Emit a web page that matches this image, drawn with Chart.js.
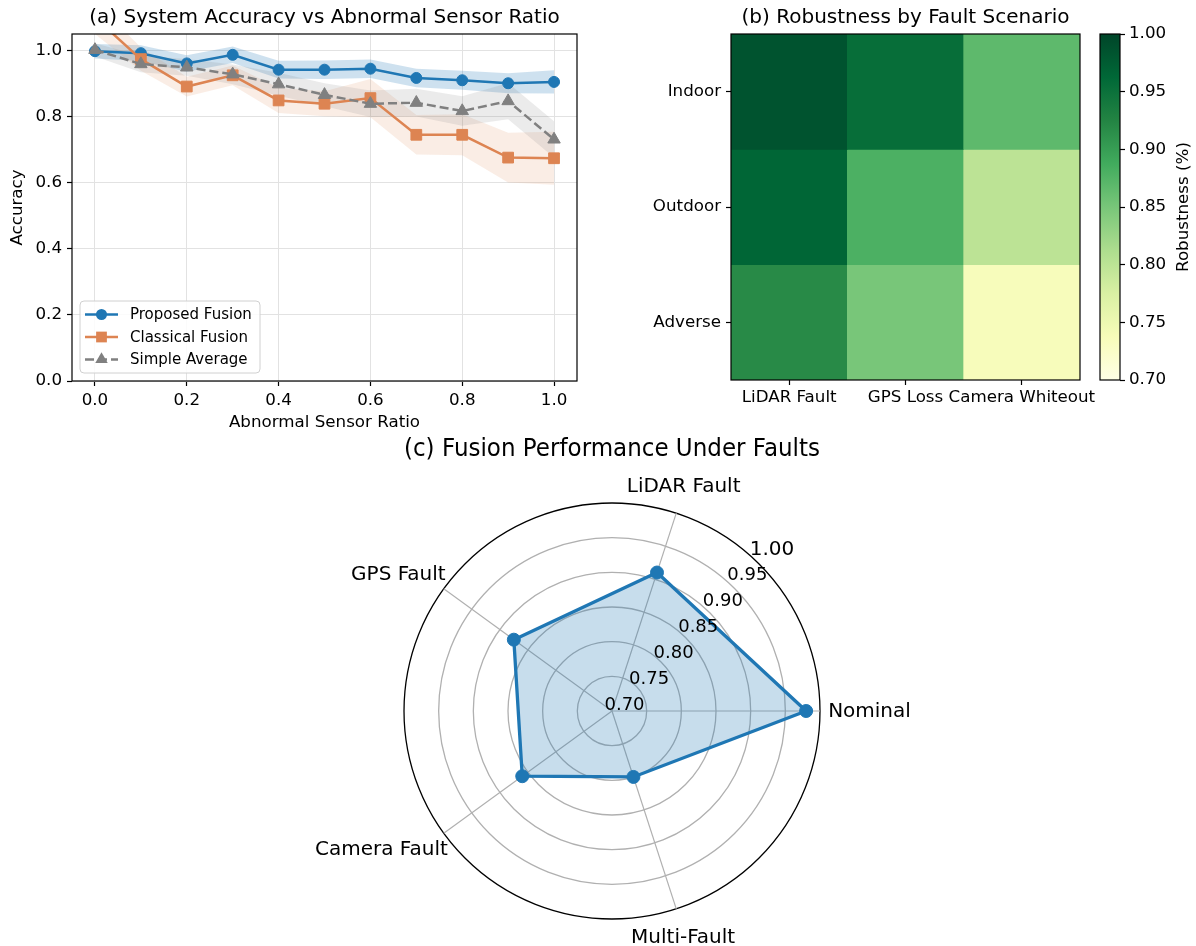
<!DOCTYPE html>
<html><head><meta charset="utf-8">
<script src="https://cdn.jsdelivr.net/npm/chart.js@4"></script>
<style>
html,body{margin:0;padding:0;background:#fff;width:1196px;height:946px;overflow:hidden;position:relative;}
canvas{position:absolute;}
</style></head><body>
<canvas id="cA" width="600" height="445" style="left:0px;top:0px"></canvas>
<canvas id="cB" width="510" height="420" style="left:600px;top:0px"></canvas>
<canvas id="cBar" width="106" height="420" style="left:1090px;top:0px"></canvas>
<canvas id="cC" width="660" height="516" style="left:280px;top:430px"></canvas>
<script>
// ---------------- DATA ----------------
const ratios = [0.0, 0.1, 0.2, 0.3, 0.4, 0.5, 0.6, 0.7, 0.8, 0.9, 1.0];
const seriesNames = ['Proposed Fusion', 'Classical Fusion', 'Simple Average'];
const proposed     = [0.998, 0.992, 0.961, 0.987, 0.942, 0.942, 0.945, 0.917, 0.910, 0.901, 0.905];
const proposedStd  = [0.022, 0.024, 0.025, 0.025, 0.027, 0.028, 0.028, 0.028, 0.029, 0.030, 0.035];
const classical    = [1.100, 0.974, 0.891, 0.925, 0.849, 0.839, 0.856, 0.745, 0.745, 0.676, 0.674];
const classicalStd = [0.050, 0.035, 0.030, 0.030, 0.038, 0.038, 0.058, 0.060, 0.062, 0.075, 0.080];
const simpleAvg    = [1.002, 0.959, 0.949, 0.928, 0.898, 0.866, 0.839, 0.842, 0.817, 0.847, 0.731];
const simpleAvgStd = [0.020, 0.025, 0.025, 0.030, 0.035, 0.035, 0.040, 0.042, 0.045, 0.055, 0.055];
const xTicksA = [0.0, 0.2, 0.4, 0.6, 0.8, 1.0];
const yTicksA = [0.0, 0.2, 0.4, 0.6, 0.8, 1.0];

const faultCols = ['LiDAR Fault', 'GPS Loss', 'Camera Whiteout'];
const scenarioRows = ['Indoor', 'Outdoor', 'Adverse'];
const robIndoor  = [0.985, 0.955, 0.868];
const robOutdoor = [0.965, 0.880, 0.800];
const robAdverse = [0.919, 0.850, 0.736];
const cbarTicks = [0.70, 0.75, 0.80, 0.85, 0.90, 0.95, 1.00];

const radarCats = ['Nominal', 'LiDAR Fault', 'GPS Fault', 'Camera Fault', 'Multi-Fault'];
const radarVals = [0.980, 0.910, 0.875, 0.860, 0.800];
const radarTicks = [0.70, 0.75, 0.80, 0.85, 0.90, 0.95, 1.00];

// ---------------- STYLE ----------------
const FONT = "'DejaVu Sans', sans-serif";
Chart.defaults.font.family = FONT;
Chart.defaults.color = '#000';
Chart.defaults.animation = false;
Chart.defaults.plugins.tooltip.enabled = false;
Chart.defaults.plugins.legend.display = false;
const BLUE = '#1f77b4', ORANGE = '#dd8452', GRAY = '#808080';
const TICK = 16.7;

const YLGN = [[0,'#ffffe5'],[0.125,'#f7fcb9'],[0.25,'#d9f0a3'],[0.375,'#addd8e'],[0.5,'#78c679'],
              [0.625,'#41ab5d'],[0.75,'#238443'],[0.875,'#006837'],[1,'#004529']];
function hex2rgb(h){return [parseInt(h.slice(1,3),16),parseInt(h.slice(3,5),16),parseInt(h.slice(5,7),16)];}
function ylgn(v){
  const vmin = cbarTicks[0], vmax = cbarTicks[cbarTicks.length-1];
  let t = Math.max(0, Math.min(1, (v - vmin) / (vmax - vmin)));
  for (let i = 1; i < YLGN.length; i++) {
    if (t <= YLGN[i][0]) {
      const f = (t - YLGN[i-1][0]) / (YLGN[i][0] - YLGN[i-1][0]);
      const a = hex2rgb(YLGN[i-1][1]), b = hex2rgb(YLGN[i][1]);
      return 'rgb(' + a.map((c,k)=>Math.round(c + (b[k]-c)*f)).join(',') + ')';
    }
  }
  return YLGN[YLGN.length-1][1];
}

const spines = {id:'spines', afterDraw(chart){
  const {ctx, chartArea:a} = chart;
  ctx.save(); ctx.strokeStyle = '#000'; ctx.lineWidth = 1.2;
  ctx.strokeRect(a.left, a.top, a.right - a.left, a.bottom - a.top);
  ctx.restore();
}};

function drawMarker(ctx, style, x, y, r, color){
  ctx.fillStyle = color; ctx.beginPath();
  if (style === 'circle') ctx.arc(x, y, r, 0, Math.PI*2);
  else if (style === 'rect') { const s = r*Math.SQRT1_2; ctx.rect(x-s, y-s, 2*s, 2*s); }
  else { let rad = 0; ctx.moveTo(x + Math.sin(rad)*r, y - Math.cos(rad)*r);
    for (let k=0;k<2;k++){ rad += Math.PI*2/3; ctx.lineTo(x + Math.sin(rad)*r, y - Math.cos(rad)*r); } ctx.closePath(); }
  ctx.fill();
}

// ---------------- (a) LINE CHART ----------------
const styleA = [
  {color: BLUE, point: 'circle', r: 5.5, dash: []},
  {color: ORANGE, point: 'rect', r: 7.6, dash: []},
  {color: GRAY, point: 'triangle', r: 7.2, dash: [9, 4]}
];
const pts = vals => ratios.map((x,i) => ({x, y: vals[i]}));
const bnd = (vals, std, s) => ratios.map((x,i) => ({x, y: vals[i] + s*std[i]}));
const mainSeries = [proposed, classical, simpleAvg];
const stdSeries = [proposedStd, classicalStd, simpleAvgStd];
const bandColors = ['rgba(31,119,180,0.22)', 'rgba(221,132,82,0.15)', 'rgba(128,128,128,0.16)'];

const dsA = [];
mainSeries.forEach((vals, k) => {
  dsA.push({label: seriesNames[k], data: pts(vals), borderColor: styleA[k].color, backgroundColor: styleA[k].color,
    borderWidth: 2.5, borderDash: styleA[k].dash, pointStyle: styleA[k].point, pointRadius: styleA[k].r,
    pointBorderWidth: 1, pointBackgroundColor: styleA[k].color, pointBorderColor: styleA[k].color,
    fill: false, order: 2 - k});
});
mainSeries.forEach((vals, k) => {
  dsA.push({data: bnd(vals, stdSeries[k], 1), fill: '+1', backgroundColor: bandColors[k], borderWidth: 0, pointRadius: 0, order: 20 - k});
  dsA.push({data: bnd(vals, stdSeries[k], -1), fill: false, borderWidth: 0, pointRadius: 0, order: 20 - k});
});

const legendA = {id:'legendA', afterDraw(chart){
  const {ctx, chartArea:a} = chart;
  const L = a.left + 8, B = a.bottom - 8, W = 180, H = 72, T = B - H;
  ctx.save();
  ctx.beginPath();
  if (ctx.roundRect) ctx.roundRect(L, T, W, H, 4); else ctx.rect(L, T, W, H);
  ctx.fillStyle = 'rgba(255,255,255,0.85)'; ctx.fill();
  ctx.strokeStyle = '#d0d0d0'; ctx.lineWidth = 1; ctx.stroke();
  ctx.font = '15px ' + FONT; ctx.textBaseline = 'middle'; ctx.textAlign = 'left';
  seriesNames.forEach((name, k) => {
    const y = T + 13.5 + k*22.5, st = styleA[k];
    ctx.strokeStyle = st.color; ctx.lineWidth = 2.5; ctx.setLineDash(st.dash);
    ctx.beginPath(); ctx.moveTo(L + 5, y); ctx.lineTo(L + 38, y); ctx.stroke(); ctx.setLineDash([]);
    drawMarker(ctx, st.point, L + 21.5, y, st.r, st.color);
    ctx.fillStyle = '#000'; ctx.fillText(name, L + 50, y + 1);
  });
  ctx.restore();
}};

new Chart(document.getElementById('cA'), {
  type: 'line',
  data: {datasets: dsA},
  options: {
    responsive: false,
    layout: {padding: {left: 0, right: 23, top: 0, bottom: 0}},
    plugins: {
      title: {display: true, text: '(a) System Accuracy vs Abnormal Sensor Ratio', fullSize: false,
        font: {size: 20, weight: 'normal'}, padding: {top: 6, bottom: 4}, color: '#000'}
    },
    scales: {
      x: {type: 'linear', min: -0.05, max: 1.05,
        afterBuildTicks: s => { s.ticks = xTicksA.map(v => ({value: v})); },
        afterFit: s => { s.height = 64; },
        ticks: {callback: v => Number(v).toFixed(1), font: {size: TICK}, padding: 5, maxRotation: 0, autoSkip: false},
        grid: {color: '#e2e2e2', lineWidth: 1, tickColor: '#000', tickLength: 5, tickWidth: 1.2},
        border: {display: false},
        title: {display: true, text: 'Abnormal Sensor Ratio', font: {size: TICK}, padding: {top: 0, bottom: 12}}
      },
      y: {type: 'linear', min: 0, max: 1.05,
        afterBuildTicks: s => { s.ticks = yTicksA.map(v => ({value: v})); },
        afterFit: s => { s.width = 72; },
        ticks: {callback: v => Number(v).toFixed(1), font: {size: TICK}, padding: 5},
        grid: {color: '#e2e2e2', lineWidth: 1, tickColor: '#000', tickLength: 5, tickWidth: 1.2},
        border: {display: false},
        title: {display: true, text: 'Accuracy', font: {size: TICK}, padding: {top: 8, bottom: 0}}
      }
    }
  },
  plugins: [spines, legendA]
});

// ---------------- (b) HEATMAP ----------------
const rowVals = [robIndoor, robOutdoor, robAdverse];
const dsB = rowVals.map((vals, r) => ({
  label: scenarioRows[r],
  data: vals.map(() => [scenarioRows.length - 1 - r, scenarioRows.length - r]),
  backgroundColor: vals.map(ylgn),
  borderWidth: 0, barPercentage: 1, categoryPercentage: 1, grouped: false
}));
new Chart(document.getElementById('cB'), {
  type: 'bar',
  data: {labels: faultCols, datasets: dsB},
  options: {
    responsive: false,
    layout: {padding: {left: 0, right: 30, top: 0, bottom: 0}},
    plugins: {
      title: {display: true, text: '(b) Robustness by Fault Scenario', fullSize: false,
        font: {size: 20, weight: 'normal'}, padding: {top: 6, bottom: 4}, color: '#000'}
    },
    scales: {
      x: {type: 'category', offset: true,
        afterFit: s => { s.height = 40; },
        ticks: {font: {size: TICK}, padding: 3, maxRotation: 0, minRotation: 0, autoSkip: false},
        grid: {offset: false, drawOnChartArea: false, tickColor: '#000', tickLength: 5, tickWidth: 1.2},
        border: {display: false}
      },
      y: {type: 'linear', min: 0, max: scenarioRows.length,
        afterBuildTicks: s => { s.ticks = scenarioRows.map((_, r) => ({value: scenarioRows.length - 1 - r + 0.5})); },
        afterFit: s => { s.width = 131; },
        ticks: {callback: v => scenarioRows[scenarioRows.length - 1 - Math.floor(v)], font: {size: TICK}, padding: 5},
        grid: {drawOnChartArea: false, tickColor: '#000', tickLength: 5, tickWidth: 1.2},
        border: {display: false}
      }
    }
  },
  plugins: [spines]
});

// ---------------- COLORBAR ----------------
const cbarLabel = {id:'cbarLabel', afterDraw(chart){
  const {ctx, chartArea:a} = chart;
  ctx.save(); ctx.translate(94, (a.top + a.bottom)/2); ctx.rotate(-Math.PI/2);
  ctx.font = TICK + 'px ' + FONT; ctx.fillStyle = '#000'; ctx.textAlign = 'center'; ctx.textBaseline = 'middle';
  ctx.fillText('Robustness (%)', 0, 0); ctx.restore();
}};
new Chart(document.getElementById('cBar'), {
  type: 'bar',
  data: {labels: [''], datasets: [{
    data: [[cbarTicks[0], cbarTicks[cbarTicks.length-1]]],
    backgroundColor: (c) => {
      const ch = c.chart; if (!ch.chartArea) return '#fff';
      const ys = ch.scales.y;
      const g = ch.ctx.createLinearGradient(0, ys.getPixelForValue(cbarTicks[0]), 0, ys.getPixelForValue(cbarTicks[cbarTicks.length-1]));
      YLGN.forEach(([t, col]) => g.addColorStop(t, col));
      return g;
    },
    borderWidth: 0, barPercentage: 1, categoryPercentage: 1
  }]},
  options: {
    responsive: false,
    layout: {padding: {left: 10, right: 0, top: 34, bottom: 40}},
    scales: {
      x: {display: false},
      y: {position: 'right', min: cbarTicks[0], max: cbarTicks[cbarTicks.length-1],
        afterBuildTicks: s => { s.ticks = cbarTicks.map(v => ({value: v})); },
        afterFit: s => { s.width = 76; },
        ticks: {callback: v => Number(v).toFixed(2), font: {size: TICK}, padding: 4},
        grid: {drawOnChartArea: false, tickColor: '#000', tickLength: 5, tickWidth: 1.2},
        border: {display: false}
      }
    }
  },
  plugins: [spines, cbarLabel]
});

// ---------------- (c) RADAR ----------------
const cwIdx = [0].concat(radarCats.slice(1).map((_, k) => radarCats.length - 1 - k));
const radarLabels = {id:'radarLabels', afterDraw(chart){
  const {ctx} = chart; const s = chart.scales.r; const R = s.drawingArea;
  ctx.save(); ctx.fillStyle = '#000'; ctx.textAlign = 'center'; ctx.textBaseline = 'middle';
  ctx.font = '20px ' + FONT;
  chart.data.labels.forEach((lab, i) => {
    const a = s.getIndexAngle(i) - Math.PI/2;
    const w = ctx.measureText(lab).width;
    const c = Math.cos(a), sn = Math.sin(a);
    const p = s.getPointPosition(i, R + 4);
    const xo = (w/2) * c * (Math.abs(c) > 0.5 ? 1.1 : 0.35);
    const yo = 12 * sn * (Math.abs(sn) > 0.9 ? 2.1 : 1.8);
    ctx.fillText(lab, p.x + xo, p.y + yo + 1);
  });
  radarTicks.forEach((v, k) => {
    const r = s.getDistanceFromCenterForValue(v);
    ctx.font = (k === radarTicks.length - 1 ? 20 : 18) + 'px ' + FONT;
    ctx.fillText(v.toFixed(2), s.xCenter + r*0.709 + 12.5, s.yCenter - r*0.747 - 6);
  });
  ctx.restore();
}};
new Chart(document.getElementById('cC'), {
  type: 'radar',
  data: {labels: cwIdx.map(i => radarCats[i]), datasets: [{
    data: cwIdx.map(i => radarVals[i]),
    borderColor: BLUE, backgroundColor: 'rgba(31,119,180,0.25)', fill: true, borderWidth: 3.3,
    pointRadius: 6.5, pointBackgroundColor: BLUE, pointBorderColor: BLUE, pointBorderWidth: 1
  }]},
  options: {
    responsive: false,
    layout: {padding: {left: 124, right: 120, top: 0, bottom: 27}},
    plugins: {
      title: {display: true, text: '(c) Fusion Performance Under Faults',
        font: {size: 24, weight: 'normal'}, padding: {top: 5.6, bottom: 38.6}, color: '#000'}
    },
    scales: {
      r: {min: radarTicks[0], max: radarTicks[radarTicks.length-1], startAngle: 90,
        afterBuildTicks: s => { s.ticks = radarTicks.map(v => ({value: v})); },
        ticks: {display: false},
        pointLabels: {display: false},
        grid: {circular: true,
          color: c => (c.tick && c.tick.value >= 0.999) ? '#000' : '#b0b0b0',
          lineWidth: 1.3},
        angleLines: {color: '#b0b0b0', lineWidth: 1.2}
      }
    }
  },
  plugins: [radarLabels]
});
</script>
</body></html>
